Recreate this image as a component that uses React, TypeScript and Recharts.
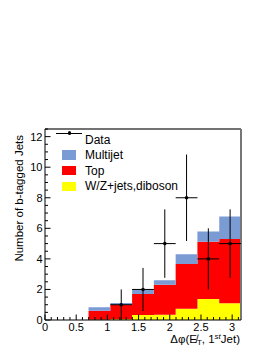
import React from 'react';
import { ComposedChart, Area, Scatter, ErrorBar, XAxis, YAxis, ReferenceLine } from 'recharts';

// Histogram bin edges (Δφ, 9 bins from 0 to π)
const binEdges = [0, 0.349, 0.698, 1.047, 1.396, 1.745, 2.094, 2.443, 2.793, 3.1416];
// Per-bin contributions (stacked)
const wzValues = [0, 0, 0.02, 0.05, 0.33, 0.35, 0.74, 1.37, 1.1];
const topValues = [0, 0, 0.58, 0.93, 1.37, 1.95, 2.92, 3.75, 4.2];
const multijetValues = [0, 0, 0.23, 0.13, 0.33, 0.3, 0.64, 0.68, 1.48];

// Data points
const dataX = [1.222, 1.571, 1.92, 2.269, 2.618, 2.967];
const dataY = [1, 2, 5, 8, 4, 5];
const dataErrY = [1, 1.41, 2.24, 2.83, 2, 2.24];
const dataErrX = [0.1745, 0.1745, 0.1745, 0.1745, 0.1745, 0.1745];

const yTicks = Array.from({ length: 26 }, (_, i) => i * 0.5);
const xTickValues = Array.from({ length: 32 }, (_, i) => i / 10);

const FONT = 'Liberation Sans, Arial, Helvetica, sans-serif';

const histRows = binEdges.map((x, i) => {
  const j = Math.min(i, wzValues.length - 1);
  return { x, wz: wzValues[j], top: topValues[j], mj: multijetValues[j] };
});

const points = dataX.map((x, i) => ({ x, y: dataY[i], ey: dataErrY[i], ex: dataErrX[i] }));

const YTick = (props: any) => {
  const { x, y, payload } = props;
  const v = payload.value;
  const major = Math.abs(v % 2) < 1e-6;
  return (
    <g>
      <line x1={x} x2={x + (major ? 5.5 : 3)} y1={y} y2={y} stroke="#000" strokeWidth={1} />
      {major && (
        <text x={x - 2.5} y={y} textAnchor="end" dominantBaseline="central" fontFamily={FONT} fontSize={11} fill="#000">
          {String(v)}
        </text>
      )}
    </g>
  );
};

const XTick = (props: any) => {
  const { x, y, payload } = props;
  const v = payload.value;
  const major = Math.abs(Math.round(v * 10) % 5) === 0;
  return (
    <g>
      <line x1={x} x2={x} y1={y} y2={y - (major ? 5.5 : 3)} stroke="#000" strokeWidth={1} />
      {major && (
        <text x={x} y={y + 10.5} textAnchor="middle" fontFamily={FONT} fontSize={11} fill="#000">
          {String(Math.round(v * 10) / 10)}
        </text>
      )}
    </g>
  );
};

const XLabel = (props: any) => {
  const vb = props.viewBox || {};
  const xr = vb.x + vb.width - 1;
  const yb = vb.y + 22.5;
  return (
    <text x={xr} y={yb} textAnchor="end" fontFamily={FONT} fontSize={11.5} fill="#000">
      <tspan>Δφ(</tspan>
      <tspan>E&#x338;</tspan>
      <tspan fontSize={8} dy={2}>T</tspan>
      <tspan dy={-2}>, 1</tspan>
      <tspan fontSize={8} dy={-4} fontStyle="italic">st</tspan>
      <tspan dy={4}>Jet)</tspan>
    </text>
  );
};

const YLabel = (props: any) => {
  const vb = props.viewBox || {};
  const x = vb.x + vb.width - 22;
  const y = vb.y + 6;
  return (
    <text x={x} y={y} transform={`rotate(-90 ${x} ${y})`} textAnchor="end" fontFamily={FONT} fontSize={11.5} fill="#000">
      Number of b-tagged Jets
    </text>
  );
};

const Dot = (props: any) => {
  const { cx, cy } = props;
  return <circle cx={cx} cy={cy} r={1.8} fill="#000" />;
};

const legendItems = [
  { name: 'Multijet', color: '#7b9bd4' },
  { name: 'Top', color: '#ff0000' },
  { name: 'W/Z+jets,diboson', color: '#ffff00' },
];

export default function App() {
  return (
    <div style={{ position: 'relative', width: 265, height: 345 }}>
      <ComposedChart
        width={265}
        height={345}
        data={histRows}
        margin={{ top: 121, right: 32, bottom: 0, left: 0 }}
      >
        <XAxis
          type="number"
          dataKey="x"
          domain={[0, Math.PI]}
          ticks={xTickValues}
          interval={0}
          height={33}
          tickSize={0}
          tickMargin={0}
          tickLine={false}
          tick={<XTick />}
          axisLine={{ stroke: '#000', strokeWidth: 1 }}
          allowDataOverflow
          label={<XLabel />}
        />
        <YAxis
          type="number"
          domain={[0, 12.5]}
          ticks={yTicks}
          interval={0}
          width={37}
          tickSize={0}
          tickMargin={0}
          tickLine={false}
          tick={<YTick />}
          axisLine={{ stroke: '#000', strokeWidth: 1 }}
          allowDataOverflow
          label={<YLabel />}
        />
        <Area type="stepAfter" dataKey="wz" stackId="s" fill="#ffff00" fillOpacity={1} stroke="none" isAnimationActive={false} />
        <Area type="stepAfter" dataKey="top" stackId="s" fill="#ff0000" fillOpacity={1} stroke="none" isAnimationActive={false} />
        <Area type="stepAfter" dataKey="mj" stackId="s" fill="#7b9bd4" fillOpacity={1} stroke="none" isAnimationActive={false} />
        <ReferenceLine y={12.5} stroke="#444" strokeWidth={1.5} ifOverflow="visible" />
        <ReferenceLine x={Math.PI} stroke="#777" strokeWidth={2} ifOverflow="visible" />
        <Scatter data={points} dataKey="y" shape={<Dot />} isAnimationActive={false}>
          <ErrorBar dataKey="ey" direction="y" width={0} stroke="#000" strokeWidth={1} />
          <ErrorBar dataKey="ex" direction="x" width={0} stroke="#000" strokeWidth={1} />
        </Scatter>
      </ComposedChart>
      <div style={{ position: 'absolute', left: 0, top: 0, fontFamily: FONT, fontSize: 12, color: '#000' }}>
        <div style={{ position: 'absolute', left: 48, top: 132 - 8 + 1, width: 26, height: 1, background: '#000' }} />
        <div style={{ position: 'absolute', left: 59.5, top: 130.2 - 8 + 1, width: 3.6, height: 3.6, borderRadius: 2, background: '#000' }} />
        <div style={{ position: 'absolute', left: 77, top: 140 - 8 - 7, whiteSpace: 'nowrap', lineHeight: '14px' }}>Data</div>
        {legendItems.map((it, i) => (
          <React.Fragment key={it.name}>
            <div style={{ position: 'absolute', left: 54, top: 150 - 8 + i * 15.8, width: 14, height: 9.5, background: it.color }} />
            <div style={{ position: 'absolute', left: 77, top: 155 - 8 - 7 + i * 15.6, whiteSpace: 'nowrap', lineHeight: '14px' }}>{it.name}</div>
          </React.Fragment>
        ))}
      </div>
    </div>
  );
}
